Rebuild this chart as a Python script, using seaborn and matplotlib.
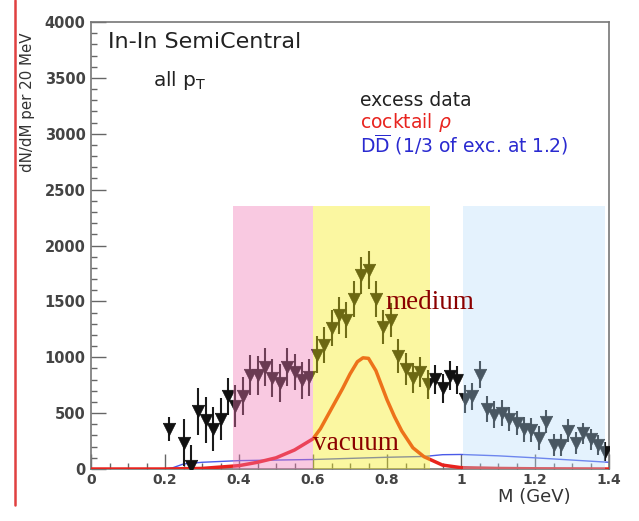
import numpy as np
import pandas as pd
import seaborn as sns
import matplotlib
matplotlib.use("Agg")
import matplotlib.pyplot as plt
from matplotlib.lines import Line2D
from matplotlib.ticker import MultipleLocator

# Excess dimuon yield (In-In semicentral, all pT)
mass = [0.21, 0.25, 0.27, 0.29, 0.31, 0.33, 0.35, 0.37, 0.39, 0.41,
        0.43, 0.45, 0.47, 0.49, 0.51, 0.53, 0.55, 0.57, 0.59, 0.61,
        0.63, 0.65, 0.67, 0.69, 0.71, 0.73, 0.75, 0.77, 0.79, 0.81,
        0.83, 0.85, 0.87, 0.89, 0.91, 0.93, 0.95, 0.97, 0.99, 1.01,
        1.03, 1.05, 1.07, 1.09, 1.11, 1.13, 1.15, 1.17, 1.19, 1.21,
        1.23, 1.25, 1.27, 1.29, 1.31, 1.33, 1.35, 1.37, 1.39]
excess = [359, 236, 27, 515, 440, 359, 446, 650, 566, 655,
          844, 838, 913, 814, 770, 913, 868, 793, 820, 1024,
          1113, 1263, 1374, 1332, 1518, 1733, 1781, 1524, 1272, 1332,
          1009, 895, 814, 870, 760, 802, 724, 835, 799, 626,
          649, 844, 539, 485, 500, 446, 410, 356, 350, 276,
          425, 216, 216, 344, 231, 320, 267, 216, 155]
excess_err = [110, 210, 190, 210, 205, 200, 190, 165, 190, 170,
              180, 175, 170, 170, 170, 170, 165, 165, 165, 165,
              160, 160, 165, 160, 160, 165, 170, 160, 155, 150,
              150, 140, 135, 135, 130, 130, 130, 130, 125, 125,
              125, 120, 115, 120, 115, 110, 110, 110, 105, 105,
              100, 100, 100, 100, 100, 95, 95, 90, 85]

# Vacuum rho from the hadron cocktail
rho_mass = [0.0, 0.2, 0.3, 0.4, 0.45, 0.5, 0.55, 0.6, 0.62, 0.65, 0.68,
            0.7, 0.72, 0.735, 0.75, 0.77, 0.8, 0.82, 0.84, 0.87, 0.9,
            0.95, 1.0, 1.1, 1.2, 1.4]
rho_yield = [0, 0, 5, 30, 60, 100, 170, 270, 360, 540, 720,
             850, 960, 995, 990, 880, 620, 470, 340, 190, 110,
             35, 12, 5, 2, 0]

# Open charm (DDbar), normalised to 1/3 of the excess at 1.2 GeV
dd_mass = [0.0, 0.2, 0.22, 0.25, 0.3, 0.4, 0.5, 0.6, 0.7, 0.8, 0.9,
           0.95, 1.0, 1.1, 1.2, 1.3, 1.4]
dd_yield = [0, 0, 10, 45, 60, 75, 80, 85, 95, 105, 112,
            128, 130, 118, 100, 80, 60]

# Shaded mass windows: (low, high, colour, alpha)
windows = [(0.385, 0.60, (0.94, 0.47, 0.71), 0.40),
           (0.60, 0.915, (0.96, 0.92, 0.08), 0.40),
           (1.005, 1.39, (0.70, 0.86, 0.98), 0.35)]
window_top = 2350

sns.set_theme(style="ticks")
plt.rcParams["font.family"] = ["DejaVu Sans"]
plt.rcParams["mathtext.fontset"] = "dejavusans"

fig = plt.figure(figsize=(6.39, 5.21), dpi=100)
ax = fig.add_axes([91 / 639, 1 - 469 / 521, (609 - 91) / 639, (469 - 22) / 521])

df = pd.DataFrame({"M": mass, "y": excess, "err": excess_err})
rho = pd.DataFrame({"M": rho_mass, "y": rho_yield})
dd = pd.DataFrame({"M": dd_mass, "y": dd_yield})

sns.lineplot(data=dd, x="M", y="y", ax=ax, color="#4a5ae8", lw=1.0,
             zorder=2, estimator=None)
sns.lineplot(data=rho, x="M", y="y", ax=ax, color="#e8231e", lw=2.5,
             zorder=3, estimator=None)
ax.errorbar(df["M"], df["y"], yerr=df["err"], fmt="none", ecolor="#1a1a1a",
            elinewidth=1.5, capsize=0, zorder=4)
sns.scatterplot(data=df, x="M", y="y", ax=ax, marker="v", s=80,
                color="#111111", edgecolor="#111111", linewidth=0.5, zorder=5)

for lo, hi, col, a in windows:
    ax.fill_between([lo, hi], 0, window_top, color=col, alpha=a, lw=0, zorder=6)

ax.set_xlim(0, 1.4)
ax.set_ylim(0, 4000)
ax.xaxis.set_minor_locator(MultipleLocator(0.05))
ax.yaxis.set_major_locator(MultipleLocator(500))
ax.yaxis.set_minor_locator(MultipleLocator(100))
ax.set_xticks([0, 0.2, 0.4, 0.6, 0.8, 1.0, 1.2, 1.4])
ax.set_xticklabels(["0", "0.2", "0.4", "0.6", "0.8", "1", "1.2", "1.4"])
ax.tick_params(which="major", direction="in", length=11, width=1.0,
               color="#666666", labelcolor="#444444")
ax.tick_params(axis="y", which="major", labelsize=10.5, pad=4)
ax.tick_params(axis="x", which="major", labelsize=10, pad=3)
ax.tick_params(which="minor", direction="in", length=4.5, width=1.0,
               color="#666666")
for lab in ax.get_xticklabels() + ax.get_yticklabels():
    lab.set_fontweight("bold")
for sp in ax.spines.values():
    sp.set_color("#777777")
    sp.set_linewidth(1.2)

ax.set_xlabel("")
ax.set_ylabel("")
fig.text(571 / 639, 1 - 488 / 521, "M (GeV)", ha="right", va="top",
         fontsize=13, color="#333333")
fig.text(28 / 639, 1 - 32 / 521, "dN/dM per 20 MeV", rotation=90, ha="center",
         va="top", fontsize=10.8, color="#333333")

ax.text(108 / 639, 1 - 42 / 521, "In-In SemiCentral", transform=fig.transFigure,
        ha="left", va="center", fontsize=16, color="#222222", zorder=8)
ax.text(153 / 639, 1 - 80 / 521, r"all p$_\mathrm{T}$", transform=fig.transFigure,
        ha="left", va="center", fontsize=14.5, color="#222222", zorder=8)

ax.text(360 / 639, 1 - 101 / 521, "excess data", transform=fig.transFigure,
        ha="left", va="center", fontsize=13.5, color="#222222", zorder=8)
ax.text(360 / 639, 1 - 122 / 521, r"cocktail $\rho$", transform=fig.transFigure,
        ha="left", va="center", fontsize=13.5, color="#e8231e", zorder=8)
ax.text(360 / 639, 1 - 145 / 521,
        r"D$\overline{\mathrm{D}}$ (1/3 of exc. at 1.2)",
        transform=fig.transFigure, ha="left", va="center", fontsize=13.5,
        color="#2a2ad0", zorder=8)

ax.text(0.795, 1430, "medium", fontsize=19.5, color="#8b0000",
        family="Liberation Serif", ha="left", va="baseline", zorder=8)
ax.text(0.60, 170, "vacuum", fontsize=19.5, color="#8b0000",
        family="Liberation Serif", ha="left", va="baseline", zorder=8)

fig.add_artist(Line2D([15 / 639, 15 / 639], [1 - 505 / 521, 1],
                      color="#e04040", lw=1.8))

fig.savefig("out.png", dpi=100, facecolor="white")
